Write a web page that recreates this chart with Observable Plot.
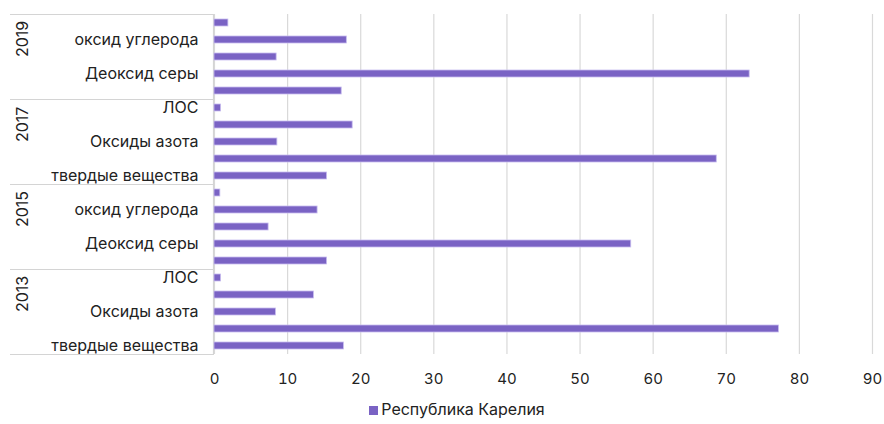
<!DOCTYPE html>
<html>
<head>
<meta charset="utf-8">
<script src="https://cdn.jsdelivr.net/npm/d3@7"></script>
<script src="https://cdn.jsdelivr.net/npm/@observablehq/plot@0.6"></script>
<style>
  body { margin: 0; background: #fff; font-family: Inter, "Noto Sans", sans-serif; }
  #legend { width: 884px; text-align: center; padding-left: 30px; box-sizing: border-box; font-size: 16px; color: #222; margin-top: 3px; }
  #legend span.sw { display: inline-block; width: 9px; height: 9px; background: #7a63c4; margin-right: 3px; vertical-align: 0px; }
</style>
</head>
<body>
<div id="chart"></div>
<div id="legend"><span class="sw"></span>Республика Карелия</div>
<script>
const years = ["2013", "2015", "2017", "2019"];
const categories = ["твердые вещества", "Деоксид серы", "Оксиды азота", "оксид углерода", "ЛОС"];
const v2013 = [17.7, 77.2, 8.4, 13.6, 0.9];
const v2015 = [15.4, 57.0, 7.4, 14.1, 0.8];
const v2017 = [15.4, 68.7, 8.6, 18.9, 0.9];
const v2019 = [17.4, 73.2, 8.5, 18.1, 1.9];
const xTicks = [0, 10, 20, 30, 40, 50, 60, 70, 80, 90];
const seriesName = "Республика Карелия";

const valuesByYear = {"2013": v2013, "2015": v2015, "2017": v2017, "2019": v2019};
const data = [];
years.forEach(yr => categories.forEach((c, i) => data.push({year: yr, cat: c, key: yr + "|" + c, value: valuesByYear[yr][i], idx: data.length})));
const domain = data.map(d => d.key).reverse(); // top: 2019 ЛОС
const labelOf = new Map(data.map(d => [d.key, d.idx % 2 === 0 ? d.cat : ""]));

const W = 884, H = 396, mt = 14, mb = 42, ml = 214, mr = 12;
const step = (H - mt - mb) / domain.length;
const groups = years.map(yr => ({year: yr, mid: yr + "|" + categories[2], first: yr + "|" + categories[0], last: yr + "|" + categories[4]}));

const chart = Plot.plot({
  width: W, height: H,
  marginTop: mt, marginBottom: mb, marginLeft: ml, marginRight: mr,
  style: {fontFamily: "Inter, 'Noto Sans', sans-serif", fontSize: "16px", color: "#222", background: "#fff"},
  x: {domain: [0, 90], ticks: xTicks, label: null},
  y: {domain, paddingInner: 0.6, paddingOuter: 0.3, label: null},
  marks: [
    Plot.gridX(xTicks, {stroke: "#d9d9d9", strokeOpacity: 1, strokeWidth: 1.2}),
    Plot.ruleX([0], {stroke: "#d4d4d4", strokeWidth: 1.2, dx: -1}),
    Plot.barX(data, {y: "key", x: "value", fill: "#7a63c4", stroke: "#c7bcef", strokeWidth: 0.8}),
    Plot.axisX(xTicks, {tickSize: 0, tickPadding: 19, fontSize: 15, fill: "#222", tickFormat: d => String(d)}),
    Plot.axisY({tickSize: 0, tickPadding: 16, fontSize: 16, fill: "#222", tickFormat: k => labelOf.get(k)}),
    // table-like separators on the left
    Plot.ruleY(groups, {y: "first", dy: step / 2, stroke: "#d4d4d4", insetLeft: -(ml - 10), insetRight: W - ml - mr}),
    Plot.ruleY(groups.slice(-1), {y: "last", dy: -step / 2, stroke: "#d4d4d4", insetLeft: -(ml - 10), insetRight: W - ml - mr}),
    Plot.text(groups, {y: "mid", text: "year", frameAnchor: "left", dx: -(ml - 22), rotate: -90, fontSize: 16, fill: "#222"})
  ]
});
document.getElementById("chart").appendChild(chart);
</script>
</body>
</html>
